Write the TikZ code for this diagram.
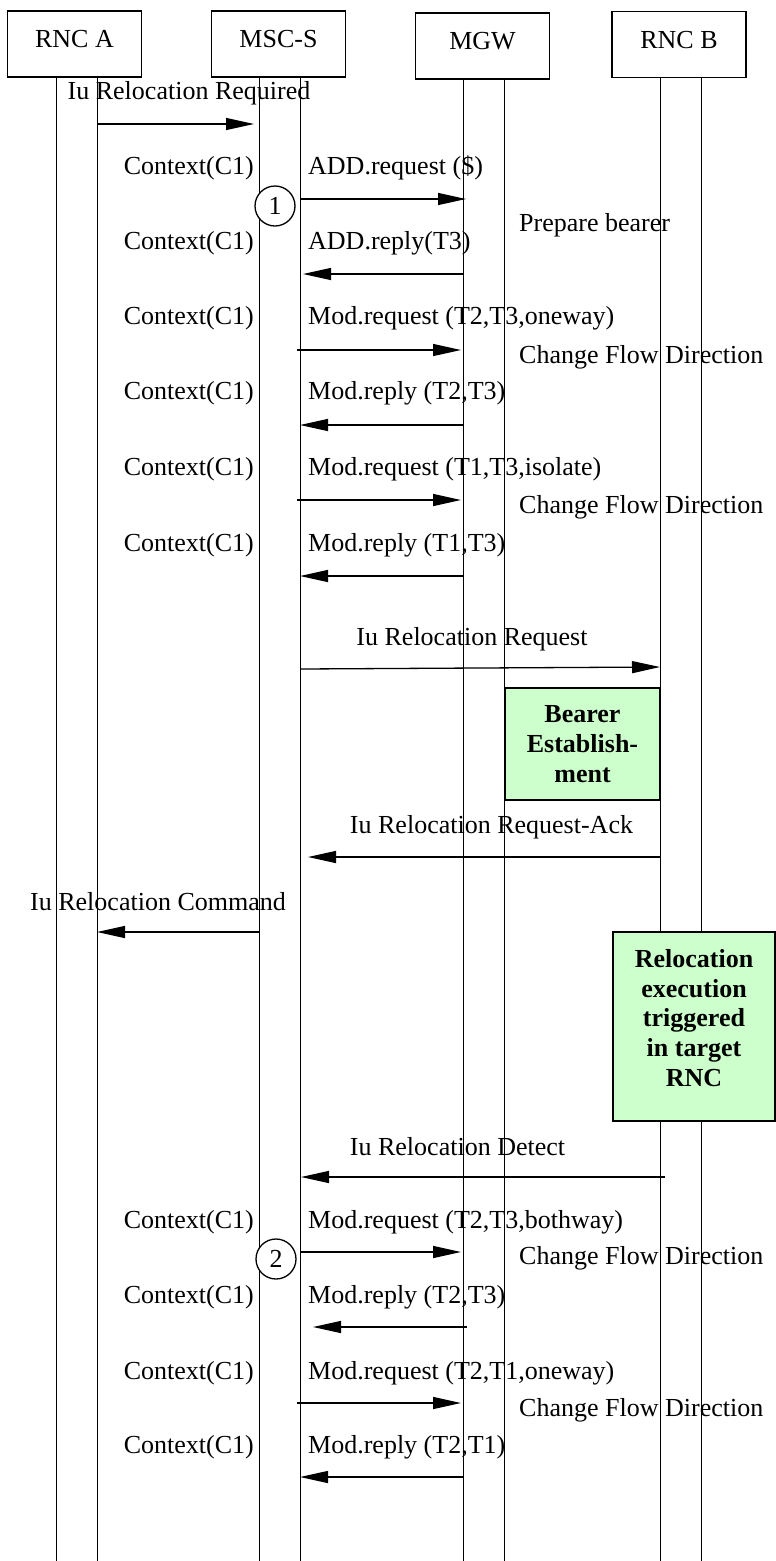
\documentclass[tikz,border=0pt]{standalone}
\usepackage{fontspec}
\setmainfont{Liberation Serif}
\usepackage{tikz}
\usetikzlibrary{arrows.meta}
\pgfdeclarelayer{edgelayer}
\pgfdeclarelayer{nodelayer}
\pgfsetlayers{edgelayer,nodelayer,main}
\newcommand{\msgfont}{\fontsize{26}{29.8}\selectfont}
\definecolor{procgreen}{rgb}{0.8,1,0.8}
\tikzstyle{none}=[inner sep=0pt]
\tikzstyle{entity}=[draw, line width=1.3pt, fill=white, minimum width=134pt, minimum height=66pt, text depth=10pt, font=\msgfont]
\tikzstyle{msgtext}=[inner sep=0pt, font=\msgfont]
\tikzstyle{procbox}=[draw, line width=1.3pt, fill=procgreen, inner sep=0pt, align=center, font=\msgfont\bfseries]
\tikzstyle{marker}=[draw, circle, line width=1.3pt, fill=white, minimum size=40pt, inner sep=0pt, font=\msgfont]
\tikzstyle{lifeline}=[line width=1pt]
\tikzstyle{msg}=[-{Triangle[length=28pt,width=12pt]}, line width=1.3pt]

\begin{document}
\begin{tikzpicture}[x=1pt, y=-1pt]
	\path [use as bounding box] (0, 0) rectangle (776, 1561);
	\begin{pgfonlayer}{nodelayer}
		\node [style=entity] (0) at (74.5, 44) {RNC A};
		\node [style=entity] (1) at (278.5, 44) {MSC-S};
		\node [style=entity] (2) at (482.5, 46) {MGW};
		\node [style=entity] (3) at (679, 44.5) {RNC B};
		\node [style=none] (4) at (56, 77) {};
		\node [style=none] (5) at (56, 1561) {};
		\node [style=none] (6) at (97, 77) {};
		\node [style=none] (7) at (97, 1561) {};
		\node [style=none] (8) at (259, 77) {};
		\node [style=none] (9) at (259, 1561) {};
		\node [style=none] (10) at (300, 77) {};
		\node [style=none] (11) at (300, 1561) {};
		\node [style=none] (12) at (463, 79) {};
		\node [style=none] (13) at (463, 1561) {};
		\node [style=none] (14) at (504, 79) {};
		\node [style=none] (15) at (504, 1561) {};
		\node [style=none] (16) at (660, 77) {};
		\node [style=none] (17) at (660, 1561) {};
		\node [style=none] (18) at (701, 77) {};
		\node [style=none] (19) at (701, 1561) {};
		\node [style=msgtext] (20) at (189, 93) {Iu Relocation Required};
		\node [style=none] (21) at (97, 124) {};
		\node [style=none] (22) at (254, 124) {};
		\node [style=msgtext, anchor=east] (23) at (254, 168) {Context(C1)};
		\node [style=msgtext, anchor=west] (24) at (308, 168) {ADD.request (\$)};
		\node [style=marker] (25) at (275, 206) {1};
		\node [style=none] (26) at (300, 199) {};
		\node [style=none] (27) at (466, 199) {};
		\node [style=msgtext, anchor=west] (28) at (519, 225) {Prepare bearer};
		\node [style=msgtext, anchor=east] (29) at (254, 243) {Context(C1)};
		\node [style=msgtext, anchor=west] (30) at (308, 243) {ADD.reply(T3)};
		\node [style=none] (31) at (464, 274) {};
		\node [style=none] (32) at (303, 274) {};
		\node [style=msgtext, anchor=east] (33) at (254, 318) {Context(C1)};
		\node [style=msgtext, anchor=west] (34) at (308, 318) {Mod.request (T2,T3,oneway)};
		\node [style=none] (35) at (297, 350) {};
		\node [style=none] (36) at (461, 350) {};
		\node [style=msgtext, anchor=west] (37) at (519, 357) {Change Flow Direction};
		\node [style=msgtext, anchor=east] (38) at (254, 393) {Context(C1)};
		\node [style=msgtext, anchor=west] (39) at (308, 393) {Mod.reply (T2,T3)};
		\node [style=none] (40) at (464, 425) {};
		\node [style=none] (41) at (300, 425) {};
		\node [style=msgtext, anchor=east] (42) at (254, 469) {Context(C1)};
		\node [style=msgtext, anchor=west] (43) at (308, 469) {Mod.request (T1,T3,isolate)};
		\node [style=none] (44) at (297, 500) {};
		\node [style=none] (45) at (461, 500) {};
		\node [style=msgtext, anchor=west] (46) at (519, 507) {Change Flow Direction};
		\node [style=msgtext, anchor=east] (47) at (254, 545) {Context(C1)};
		\node [style=msgtext, anchor=west] (48) at (308, 545) {Mod.reply (T1,T3)};
		\node [style=none] (49) at (464, 576) {};
		\node [style=none] (50) at (300, 576) {};
		\node [style=msgtext] (51) at (472, 639) {Iu Relocation Request};
		\node [style=none] (52) at (300, 669) {};
		\node [style=none] (53) at (660, 667) {};
		\node [style=procbox, minimum width=155pt, minimum height=112pt] (54) at (582.5, 744) {Bearer\\Establish-\\ment};
		\node [style=msgtext] (55) at (491.5, 827) {Iu Relocation Request-Ack};
		\node [style=none] (56) at (660, 857) {};
		\node [style=none] (57) at (308, 857) {};
		\node [style=msgtext] (58) at (158, 902) {Iu Relocation Command};
		\node [style=none] (59) at (259, 932) {};
		\node [style=none] (60) at (97, 932) {};
		\node [style=procbox, minimum width=162pt, minimum height=189pt] (61) at (694, 1026.5) {};
		\node [style=procbox, draw=none, fill=none] (62) at (694, 1018) {Relocation\\execution\\triggered\\in target\\RNC};
		\node [style=msgtext] (63) at (457.5, 1147) {Iu Relocation Detect};
		\node [style=none] (64) at (665, 1177) {};
		\node [style=none] (65) at (301, 1177) {};
		\node [style=msgtext, anchor=east] (66) at (254, 1222) {Context(C1)};
		\node [style=msgtext, anchor=west] (67) at (308, 1222) {Mod.request (T2,T3,bothway)};
		\node [style=marker] (68) at (276, 1259) {2};
		\node [style=none] (69) at (300, 1252) {};
		\node [style=none] (70) at (461, 1252) {};
		\node [style=msgtext, anchor=west] (71) at (519, 1258) {Change Flow Direction};
		\node [style=msgtext, anchor=east] (72) at (254, 1297) {Context(C1)};
		\node [style=msgtext, anchor=west] (73) at (308, 1297) {Mod.reply (T2,T3)};
		\node [style=none] (74) at (467, 1327) {};
		\node [style=none] (75) at (313, 1327) {};
		\node [style=msgtext, anchor=east] (76) at (254, 1373) {Context(C1)};
		\node [style=msgtext, anchor=west] (77) at (308, 1373) {Mod.request (T2,T1,oneway)};
		\node [style=none] (78) at (297, 1403) {};
		\node [style=none] (79) at (461, 1403) {};
		\node [style=msgtext, anchor=west] (80) at (519, 1410) {Change Flow Direction};
		\node [style=msgtext, anchor=east] (81) at (254, 1447) {Context(C1)};
		\node [style=msgtext, anchor=west] (82) at (308, 1447) {Mod.reply (T2,T1)};
		\node [style=none] (83) at (464, 1477) {};
		\node [style=none] (84) at (300, 1477) {};
	\end{pgfonlayer}
	\begin{pgfonlayer}{edgelayer}
		\draw [style=lifeline] (4.center) to (5.center);
		\draw [style=lifeline] (6.center) to (7.center);
		\draw [style=lifeline] (8.center) to (9.center);
		\draw [style=lifeline] (10.center) to (11.center);
		\draw [style=lifeline] (12.center) to (13.center);
		\draw [style=lifeline] (14.center) to (15.center);
		\draw [style=lifeline] (16.center) to (17.center);
		\draw [style=lifeline] (18.center) to (19.center);
		\draw [style=msg] (21.center) to (22.center);
		\draw [style=msg] (26.center) to (27.center);
		\draw [style=msg] (31.center) to (32.center);
		\draw [style=msg] (35.center) to (36.center);
		\draw [style=msg] (40.center) to (41.center);
		\draw [style=msg] (44.center) to (45.center);
		\draw [style=msg] (49.center) to (50.center);
		\draw [style=msg] (52.center) to (53.center);
		\draw [style=msg] (56.center) to (57.center);
		\draw [style=msg] (59.center) to (60.center);
		\draw [style=msg] (64.center) to (65.center);
		\draw [style=msg] (69.center) to (70.center);
		\draw [style=msg] (74.center) to (75.center);
		\draw [style=msg] (78.center) to (79.center);
		\draw [style=msg] (83.center) to (84.center);
	\end{pgfonlayer}
\end{tikzpicture}
\end{document}
